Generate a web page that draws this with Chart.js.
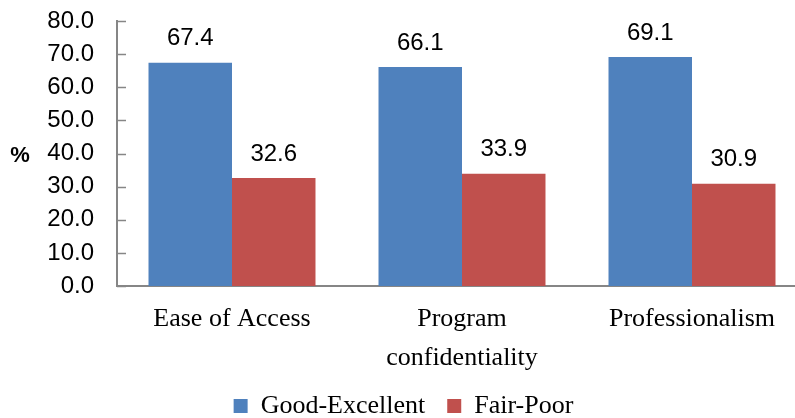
<!DOCTYPE html>
<html>
<head>
<meta charset="utf-8">
<script src="https://cdn.jsdelivr.net/npm/chart.js@4.4.1/dist/chart.umd.min.js"></script>
<style>
  html, body { margin: 0; padding: 0; background: #fff; overflow: hidden; }
  #wrap { width: 810px; height: 418px; }
</style>
</head>
<body>
<div id="wrap"><canvas id="ratingChart"></canvas></div>
<script>
// values (percent)
const categories = ['Ease of Access', ['Program', 'confidentiality'], 'Professionalism'];
const goodExcellent = [67.4, 66.1, 69.1];
const fairPoor = [32.6, 33.9, 30.9];
const yTicks = [0, 10, 20, 30, 40, 50, 60, 70, 80];

const axisGrey = '#868686';
const padBottom = -11;

// value labels above each bar
const barValues = {
  id: 'barValues',
  afterDatasetsDraw(chart) {
    const ctx = chart.ctx;
    ctx.save();
    ctx.font = '24px "Liberation Sans", Arial, sans-serif';
    ctx.fillStyle = '#000';
    ctx.textAlign = 'center';
    ctx.textBaseline = 'middle';
    chart.data.datasets.forEach(function (ds, i) {
      chart.getDatasetMeta(i).data.forEach(function (bar, j) {
        ctx.fillText(ds.data[j].toFixed(1), bar.x, bar.y - 24);
      });
    });
    ctx.restore();
  }
};

// inside tick marks on the y axis and the unrotated "%" title
const yExtras = {
  id: 'yExtras',
  afterDraw(chart) {
    const ctx = chart.ctx;
    const y = chart.scales.y;
    const left = chart.chartArea.left;
    ctx.save();
    ctx.strokeStyle = axisGrey;
    ctx.lineWidth = 1.5;
    y.ticks.forEach(function (t, i) {
      const py = Math.round(y.getPixelForTick(i)) + 0.5;
      ctx.beginPath();
      ctx.moveTo(left, py);
      ctx.lineTo(left + 9, py);
      ctx.stroke();
    });
    ctx.font = 'bold 22px "Liberation Sans", Arial, sans-serif';
    ctx.fillStyle = '#000';
    ctx.textAlign = 'center';
    ctx.textBaseline = 'middle';
    ctx.fillText('%', 20, y.getPixelForValue(40) + 2);
    ctx.restore();
  }
};

new Chart(document.getElementById('ratingChart'), {
  type: 'bar',
  data: {
    labels: categories,
    datasets: [
      {
        label: 'Good-Excellent',
        data: goodExcellent,
        backgroundColor: '#4F81BD',
        borderWidth: 0
      },
      {
        label: 'Fair-Poor',
        data: fairPoor,
        backgroundColor: '#C0504D',
        borderWidth: 0
      }
    ]
  },
  options: {
    responsive: true,
    maintainAspectRatio: false,
    animation: false,
    layout: { padding: { top: 21, right: 3, left: 0, bottom: padBottom } },
    datasets: {
      bar: { categoryPercentage: 0.726, barPercentage: 1.0 }
    },
    scales: {
      x: {
        grid: { display: false, drawTicks: false },
        border: { display: true, color: axisGrey, width: 2 },
        ticks: {
          color: '#000',
          padding: 14,
          maxRotation: 0,
          autoSkip: false,
          font: { family: '"Liberation Serif", "Times New Roman", serif', size: 26, lineHeight: 1.5 }
        },
        afterFit(scale) {
          const lg = scale.chart.legend;
          scale.height = 418 - padBottom - 286 - (lg && lg.height ? lg.height : 46);
          scale.paddingLeft = 0;
          scale.paddingRight = 0;
        }
      },
      y: {
        min: 0,
        max: 80,
        afterBuildTicks(scale) {
          scale.ticks = yTicks.map(function (v) { return { value: v }; });
        },
        grid: { display: false, drawTicks: false },
        border: { display: true, color: axisGrey, width: 2 },
        ticks: {
          color: '#000',
          padding: 23,
          autoSkip: false,
          font: { family: '"Liberation Sans", Arial, sans-serif', size: 24 },
          callback: function (v) { return Number(v).toFixed(1); }
        },
        afterFit(scale) {
          scale.width = 117;
          scale.paddingTop = 0;
          scale.paddingBottom = 0;
        }
      }
    },
    plugins: {
      legend: {
        position: 'bottom',
        labels: {
          color: '#000',
          boxWidth: 14,
          boxHeight: 14,
          padding: 22,
          font: { family: '"Liberation Serif", "Times New Roman", serif', size: 26 }
        }
      },
      tooltip: { enabled: false }
    }
  },
  plugins: [barValues, yExtras]
});
</script>
</body>
</html>
